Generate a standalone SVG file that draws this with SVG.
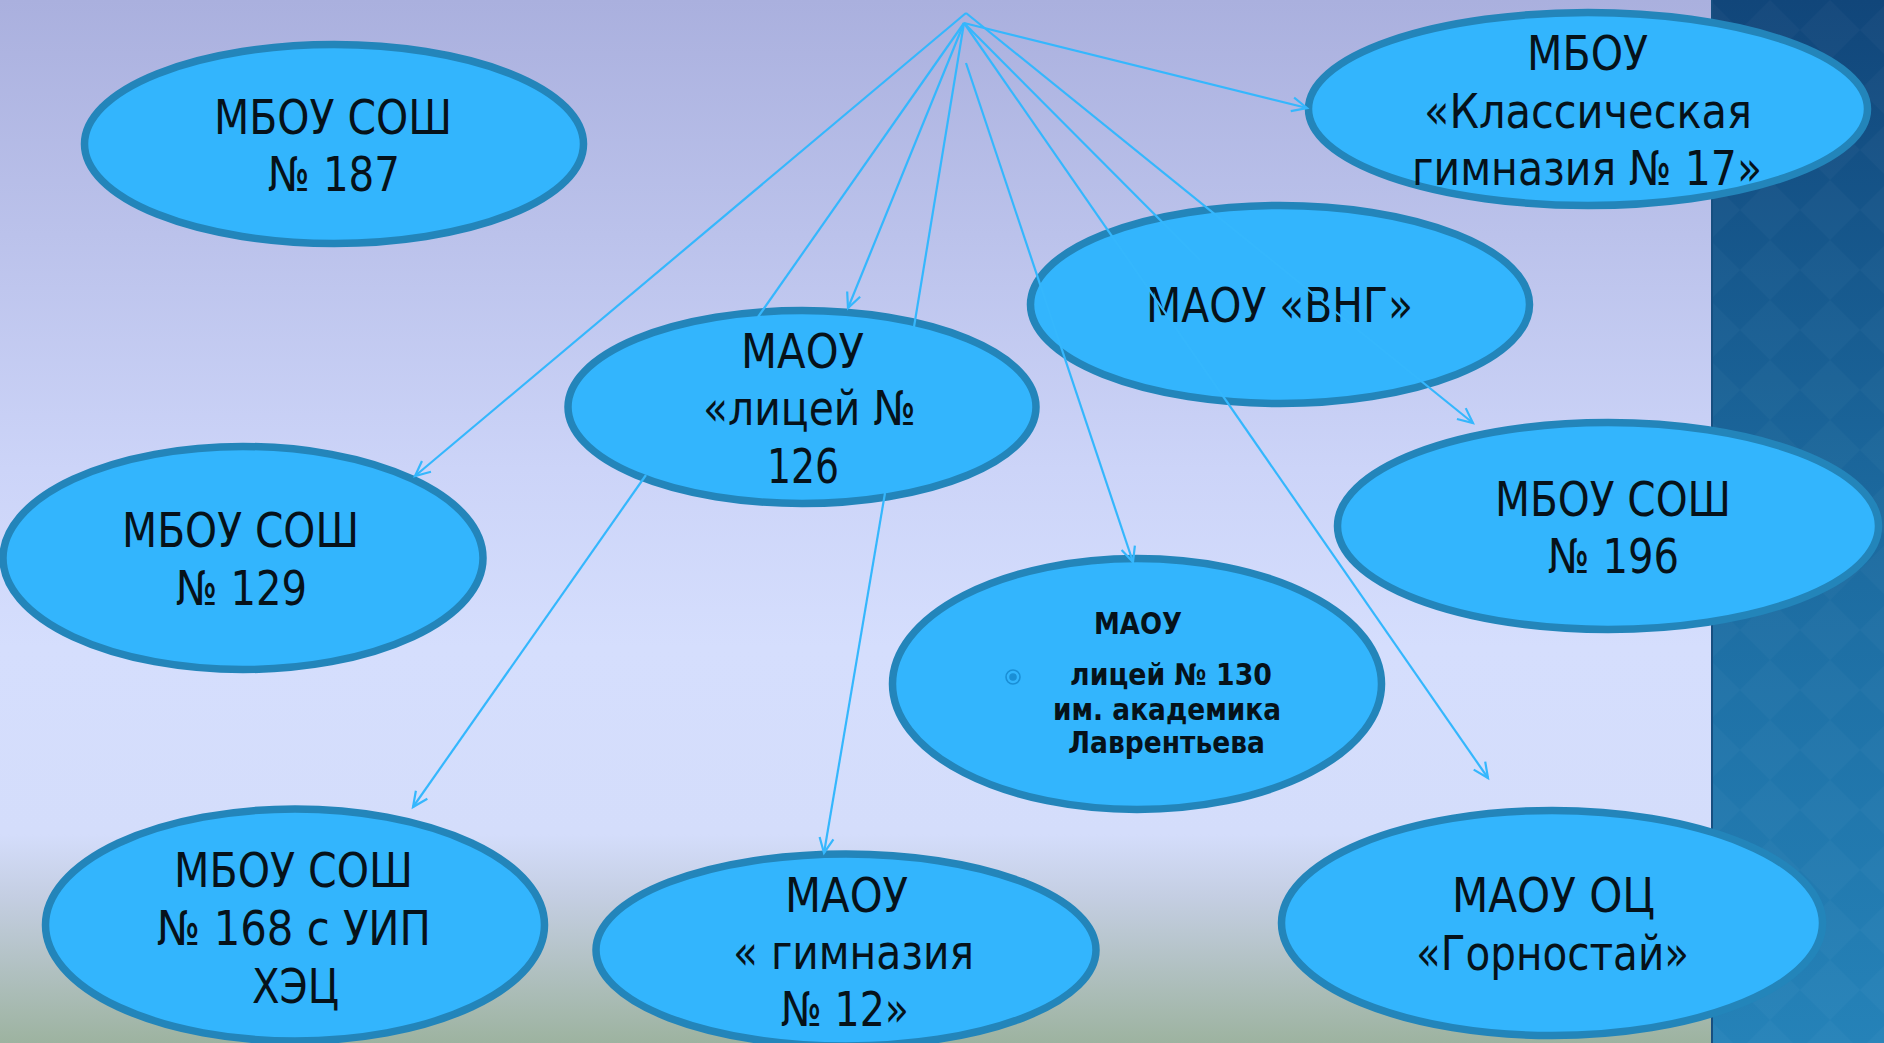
<svg xmlns="http://www.w3.org/2000/svg" width="1884" height="1043" viewBox="0 0 1884 1043">
<style>
.node ellipse{fill:#33b5fd;stroke:#2385ba;stroke-width:7.5}
.t{font-family:"DejaVu Sans Condensed","DejaVu Sans",sans-serif;font-size:48px;fill:#06121a;font-stretch:condensed}
.b{font-family:"DejaVu Sans Condensed","DejaVu Sans",sans-serif;font-size:30px;font-weight:bold;fill:#06121a;font-stretch:condensed}
.c line{stroke:#35b7fd;stroke-width:2.2;fill:none}
.c .a{marker-end:url(#arr)}
</style>
<defs>
<linearGradient id="bg" x1="0" y1="0" x2="0" y2="1">
<stop offset="0" stop-color="#aab0de"/>
<stop offset="0.45" stop-color="#ccd4f8"/>
<stop offset="0.62" stop-color="#d5defd"/>
<stop offset="0.80" stop-color="#d4ddfb"/>
<stop offset="0.86" stop-color="#c4cee2"/>
<stop offset="1" stop-color="#9db3a0"/>
</linearGradient>
<linearGradient id="pn" x1="0" y1="0" x2="0" y2="1">
<stop offset="0" stop-color="#11467a"/>
<stop offset="0.5" stop-color="#1c6a9f"/>
<stop offset="1" stop-color="#2582b8"/>
</linearGradient>
<pattern id="dia" width="60" height="60" patternUnits="userSpaceOnUse">
<path d="M30,0 L60,30 L30,60 L0,30 Z" fill="#ffffff" opacity="0.025"/>
</pattern>
<marker id="arr" markerUnits="userSpaceOnUse" orient="auto" refX="0" refY="0" markerWidth="20" markerHeight="20" overflow="visible">
<path d="M-15,-7 L0,0 L-15,7" fill="none" stroke="#35b7fd" stroke-width="2.2"/>
</marker>
</defs>
<rect x="0" y="0" width="1884" height="1043" fill="url(#bg)"/>
<rect x="1711" y="0" width="173" height="1043" fill="url(#pn)"/>
<rect x="1711" y="0" width="173" height="1043" fill="url(#dia)"/>
<rect x="1711" y="0" width="2" height="1043" fill="#174f80"/>

<g id="n187" class="node">
<ellipse cx="334" cy="144" rx="249.5" ry="99.5"/>
<text class="t" x="214" y="134" textLength="238" lengthAdjust="spacingAndGlyphs">МБОУ СОШ</text>
<text class="t" x="268" y="191" textLength="132" lengthAdjust="spacingAndGlyphs">№ 187</text>
</g>
<g id="n129" class="node">
<ellipse cx="243" cy="558" rx="240" ry="111.5"/>
<text class="t" x="122" y="547" textLength="237" lengthAdjust="spacingAndGlyphs">МБОУ СОШ</text>
<text class="t" x="176" y="605" textLength="131" lengthAdjust="spacingAndGlyphs">№ 129</text>
</g>
<g id="n168" class="node">
<ellipse cx="295" cy="925" rx="249.5" ry="116"/>
<text class="t" x="174" y="887" textLength="239" lengthAdjust="spacingAndGlyphs">МБОУ СОШ</text>
<text class="t" x="157" y="945" textLength="274" lengthAdjust="spacingAndGlyphs">№ 168 с УИП</text>
<text class="t" x="252" y="1003" textLength="87" lengthAdjust="spacingAndGlyphs">ХЭЦ</text>
</g>
<g id="n126" class="node">
<ellipse cx="802" cy="407" rx="234" ry="96.5"/>
<text class="t" x="741" y="368" textLength="123" lengthAdjust="spacingAndGlyphs">МАОУ</text>
<text class="t" x="703" y="425" textLength="213" lengthAdjust="spacingAndGlyphs">«лицей №</text>
<text class="t" x="767" y="483" textLength="72" lengthAdjust="spacingAndGlyphs">126</text>
</g>
<g id="nvng" class="node">
<ellipse cx="1280" cy="304.5" rx="249.5" ry="99"/>
<text class="t" x="1146" y="322" textLength="267" lengthAdjust="spacingAndGlyphs">МАОУ «ВНГ»</text>
</g>
<g id="n17" class="node">
<ellipse cx="1588" cy="109" rx="279.5" ry="96.5"/>
<text class="t" x="1527" y="70" textLength="121" lengthAdjust="spacingAndGlyphs">МБОУ</text>
<text class="t" x="1424" y="128" textLength="328" lengthAdjust="spacingAndGlyphs">«Классическая</text>
<text class="t" x="1412" y="185" textLength="350" lengthAdjust="spacingAndGlyphs">гимназия № 17»</text>
</g>
<g id="n196" class="node">
<ellipse cx="1608" cy="526" rx="270.5" ry="103.5"/>
<text class="t" x="1495" y="516" textLength="236" lengthAdjust="spacingAndGlyphs">МБОУ СОШ</text>
<text class="t" x="1548" y="573" textLength="131" lengthAdjust="spacingAndGlyphs">№ 196</text>
</g>
<g id="n130" class="node">
<ellipse cx="1137" cy="684" rx="244.5" ry="125.5"/>
<circle cx="1013" cy="677" r="7" fill="none" stroke="#1a8fd6" stroke-width="1.6"/>
<circle cx="1013" cy="677" r="3.8" fill="#1a8fd6"/>
<text class="b" x="1094" y="634" textLength="88" lengthAdjust="spacingAndGlyphs">МАОУ</text>
<text class="b" x="1070" y="685" textLength="202" lengthAdjust="spacingAndGlyphs">лицей № 130</text>
<text class="b" x="1053" y="720" textLength="228" lengthAdjust="spacingAndGlyphs">им. академика</text>
<text class="b" x="1068" y="753" textLength="197" lengthAdjust="spacingAndGlyphs">Лаврентьева</text>
</g>
<g id="n12" class="node">
<ellipse cx="846" cy="950" rx="250" ry="96"/>
<text class="t" x="785" y="912" textLength="123" lengthAdjust="spacingAndGlyphs">МАОУ</text>
<text class="t" x="733" y="969" textLength="241" lengthAdjust="spacingAndGlyphs">« гимназия</text>
<text class="t" x="781" y="1026" textLength="128" lengthAdjust="spacingAndGlyphs">№ 12»</text>
</g>
<g id="ngorn" class="node">
<ellipse cx="1552" cy="923" rx="270.5" ry="112.5"/>
<text class="t" x="1452" y="912" textLength="203" lengthAdjust="spacingAndGlyphs">МАОУ ОЦ</text>
<text class="t" x="1416" y="970" textLength="273" lengthAdjust="spacingAndGlyphs">«Горностай»</text>
</g>

<g id="connectors" class="c">
<line class="a" x1="966" y1="13" x2="415" y2="476"/>
<line x1="964" y1="23" x2="758" y2="317"/>
<line class="a" x1="646" y1="475" x2="413" y2="807"/>
<line class="a" x1="964" y1="23" x2="848" y2="308"/>
<line x1="964" y1="23" x2="914" y2="327"/>
<line class="a" x1="885" y1="493" x2="824" y2="853"/>
<line class="a" x1="966" y1="63" x2="1133" y2="562"/>
<line class="a" x1="964" y1="23" x2="1488" y2="778"/>
<line class="a" x1="966" y1="13" x2="1473" y2="423"/>
<line x1="964" y1="23" x2="1200" y2="260"/>
<line class="a" x1="964" y1="23" x2="1307" y2="108"/>
</g>
</svg>
